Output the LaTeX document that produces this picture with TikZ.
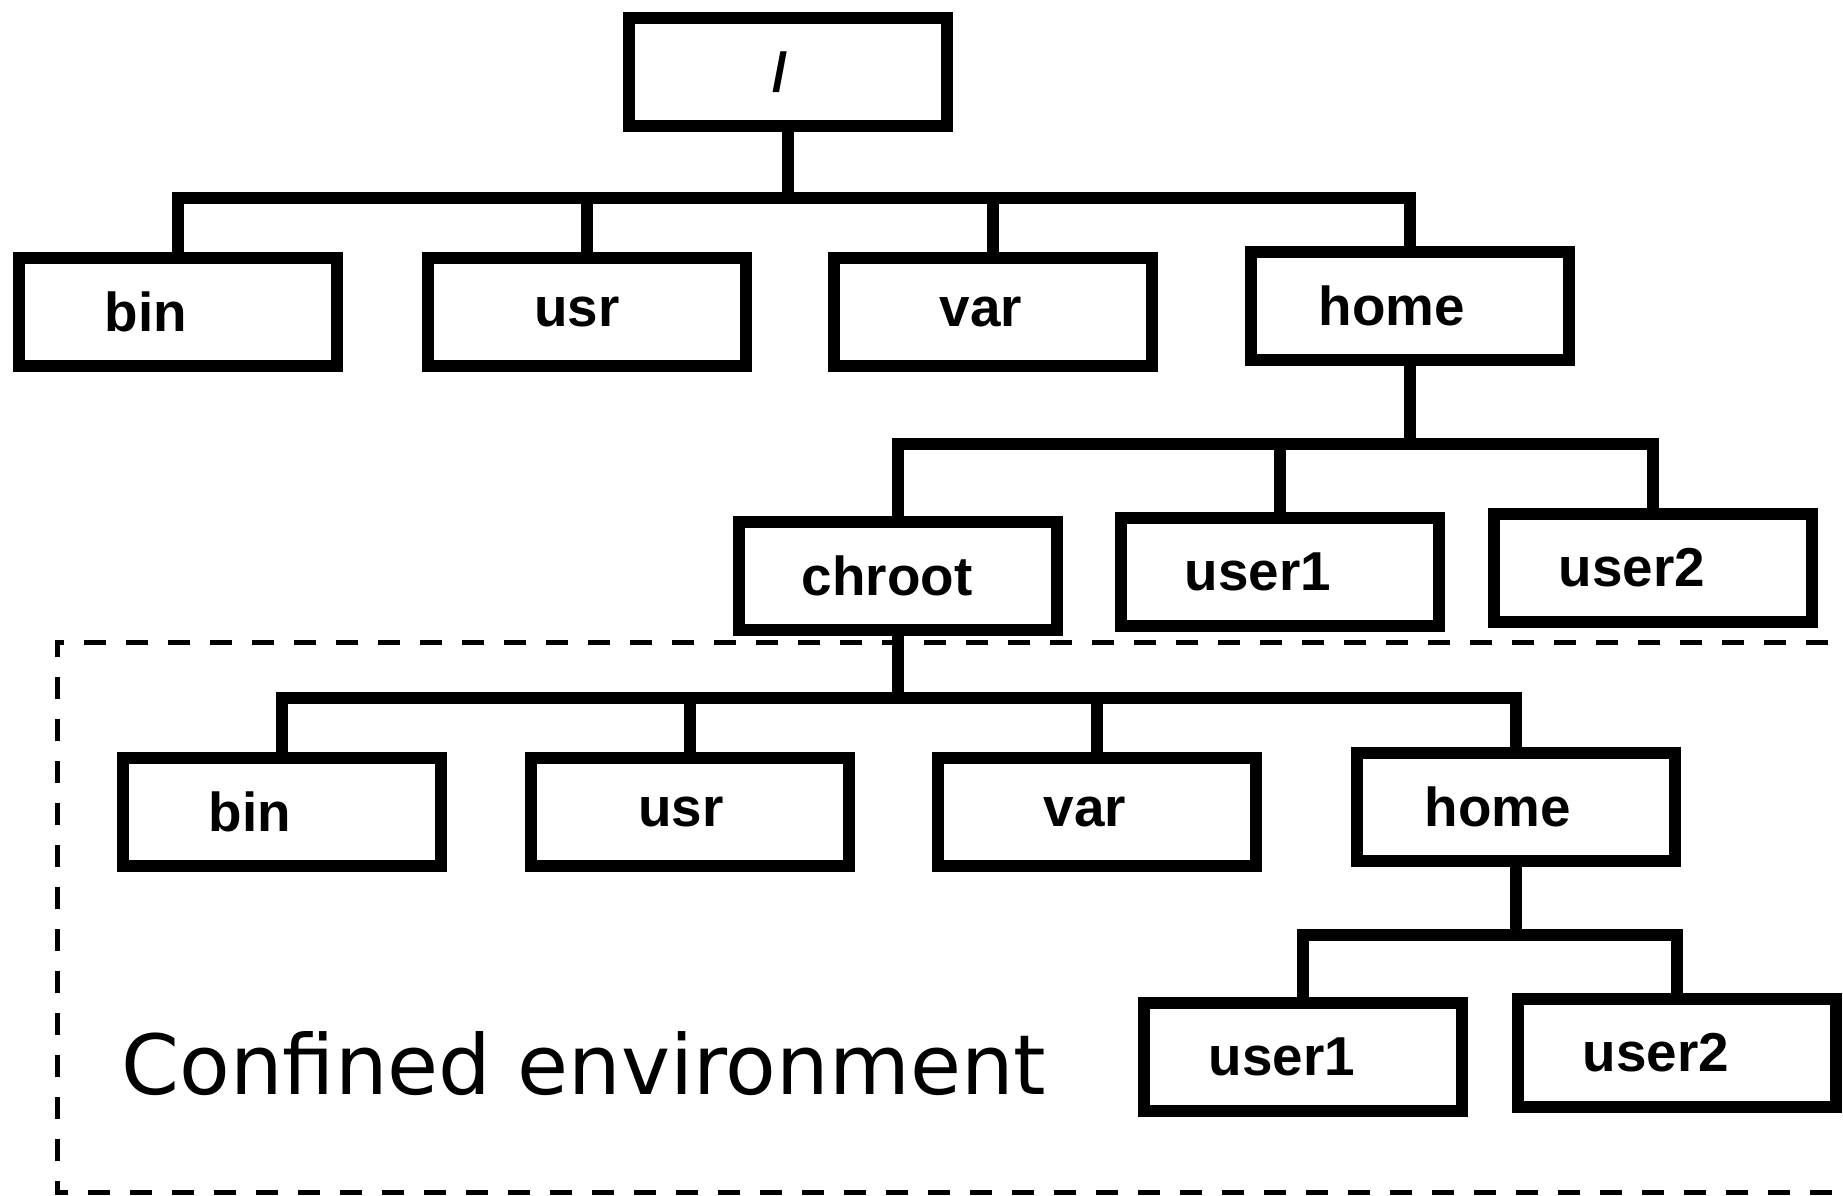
\documentclass[tikz,border=0pt]{standalone}
\usepackage{fontspec}
\setmainfont{Liberation Sans}
\newfontfamily\dejavu{DejaVu Sans}
\usetikzlibrary{positioning}

\begin{document}
\begin{tikzpicture}[
  dirbox/.style={draw, line width=0.12cm, minimum width=3.18cm, minimum height=1.08cm,
    inner sep=0pt, font=\fontsize{15.6}{18}\selectfont\bfseries,
    execute at end node={\hspace*{#1}}},
  dirbox/.default=0.36cm,
  link/.style={line width=0.12cm},
  jail/.style={line width=0.05cm, dash pattern=on 0.22cm off 0.2cm}]
\useasboundingbox (0,0) rectangle (18.43,-11.95);
% Confined area
\draw[jail] (18.7,-6.42) -- (0.57,-6.42) -- (0.57,-11.92) -- (18.7,-11.92);
\node[anchor=base west, inner sep=0pt, font=\dejavu\fontsize{23.6}{28}\selectfont] (jaillabel) at (1.21,-10.94) {Confined environment};
% Real root
\node[dirbox=0.16cm] (root) at (7.88,-0.72) {/};
\node[dirbox=0.64cm] (bin1) at (1.78,-3.12) {bin};
\node[dirbox=0.2cm] (usr1) at (5.87,-3.12) {usr};
\node[dirbox=0.24cm] (var1) at (9.93,-3.12) {var};
\node[dirbox] (home1) at (14.10,-3.06) {home};
\node[dirbox=0.22cm] (chroot) at (8.98,-5.76) {chroot};
\node[dirbox=0.44cm] (usera1) at (12.80,-5.72) {user1};
\node[dirbox=0.42cm] (usera2) at (16.53,-5.68) {user2};
% Inside the chroot
\node[dirbox=0.64cm] (bin2) at (2.82,-8.12) {bin};
\node[dirbox=0.18cm] (usr2) at (6.90,-8.12) {usr};
\node[dirbox=0.24cm] (var2) at (10.97,-8.12) {var};
\node[dirbox] (home2) at (15.16,-8.07) {home};
\node[dirbox=0.42cm] (userb1) at (13.03,-10.57) {user1};
\node[dirbox=0.42cm] (userb2) at (16.77,-10.53) {user2};
% Links
\foreach \c in {bin1,usr1,var1,home1}
  \draw[link] (root.south) -- ++(0,-0.66) -| (\c.north);
\foreach \c in {chroot,usera1,usera2}
  \draw[link] (home1.south) -- ++(0,-0.78) -| (\c.north);
\foreach \c in {bin2,usr2,var2,home2}
  \draw[link] (chroot.south) -- ++(0,-0.62) -| (\c.north);
\foreach \c in {userb1,userb2}
  \draw[link] (home2.south) -- ++(0,-0.68) -| (\c.north);
\end{tikzpicture}
\end{document}
